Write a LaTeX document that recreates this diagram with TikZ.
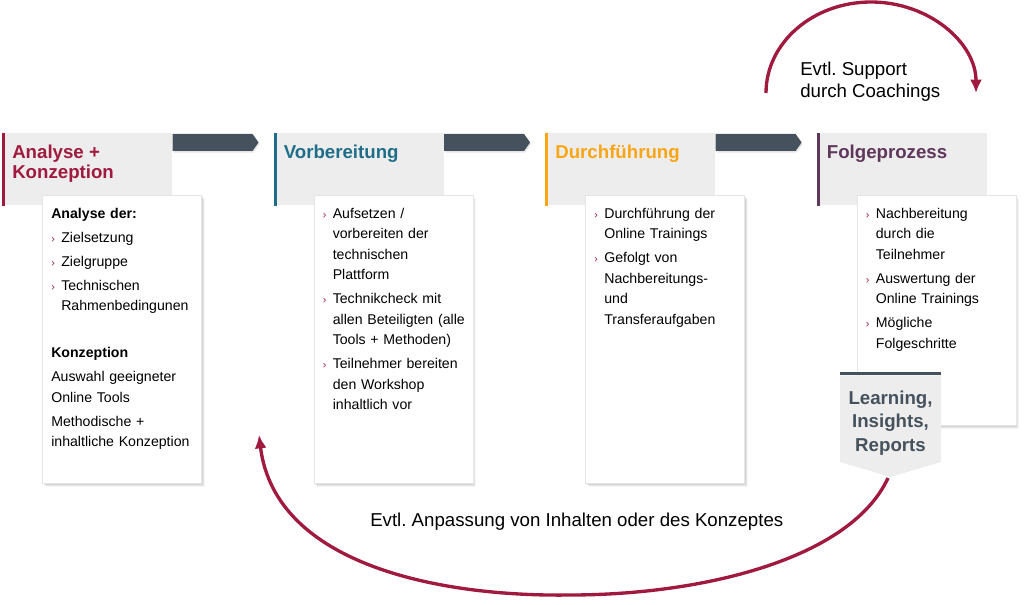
\documentclass[tikz,border=0pt]{standalone}
\usepackage{fontspec}
\setmainfont{Liberation Sans}
\usetikzlibrary{shapes,arrows.meta,positioning,shadows}
\definecolor{crimson}{RGB}{160,25,62}
\definecolor{petrol}{RGB}{30,110,138}
\definecolor{amber}{RGB}{250,165,20}
\definecolor{plum}{RGB}{95,55,90}
\definecolor{slate}{RGB}{69,82,93}
\definecolor{headgray}{RGB}{237,237,237}
\frenchspacing
\tikzstyle{phase} = [rectangle, fill=headgray, minimum width=127.5pt, minimum height=54pt, inner sep=0pt]
\tikzstyle{phasetitle} = [anchor=north west, inner sep=0pt, align=left, font=\fontsize{14}{15}\selectfont\bfseries]
\tikzstyle{card} = [rectangle, fill=white, draw=black!10, line width=0.4pt, minimum width=119.25pt, minimum height=216pt, inner sep=0pt, anchor=north west,
    drop shadow={shadow xshift=2.6pt, shadow yshift=-2.6pt, opacity=0.08},
    drop shadow={shadow xshift=1.8pt, shadow yshift=-1.8pt, opacity=0.12},
    drop shadow={shadow xshift=1pt, shadow yshift=-1pt, opacity=0.18}]
\tikzstyle{cardtext} = [anchor=north west, inner sep=0pt, text width=130pt, align=left, font=\fontsize{10.6}{15.4}\selectfont, execute at begin node={\setlength{\parskip}{2.6pt}}]
\tikzstyle{flowarrow} = [fill=slate, drop shadow={shadow xshift=0.8pt, shadow yshift=-1.2pt, opacity=0.2}]
\tikzstyle{backarrow} = [draw=crimson, line width=2.5pt, -{Latex[length=10pt, width=9pt]}]
\tikzstyle{note} = [anchor=north west, inner sep=0pt, align=left, font=\fontsize{14}{16.5}\selectfont]
\newcommand{\itm}[1]{\hangindent=7.5pt\hangafter=1\noindent\makebox[7.5pt][l]{\textcolor{crimson}{\footnotesize ›}}#1\par}
\begin{document}
\begin{tikzpicture}[x=0.75pt, y=-0.75pt]
            \useasboundingbox (0,0) rectangle (1024,605);

            % phase headers
            \node[phase, anchor=north west]                 (analyse) at (2,133){};
            \node[phase, right=75.75pt of analyse]          (vorbereitung){};
            \node[phase, right=75.75pt of vorbereitung]     (durchfuehrung){};
            \node[phase, right=75.75pt of durchfuehrung]    (folgeprozess){};
            \foreach \n/\col in {analyse/crimson, vorbereitung/petrol, durchfuehrung/amber, folgeprozess/plum}
                \fill[\col] (\n.north west) rectangle ([xshift=2.4pt]\n.south west);
            \foreach \a/\b in {analyse/vorbereitung, vorbereitung/durchfuehrung, durchfuehrung/folgeprozess}
                \fill[flowarrow] ([yshift=-0.75pt]\a.north east) -- ([xshift=-15.75pt, yshift=-0.75pt]\b.north west) -- ([xshift=-11.25pt, yshift=-7.1pt]\b.north west)
                    -- ([xshift=-15.75pt, yshift=-13.5pt]\b.north west) -- ([yshift=-13.5pt]\a.north east) -- cycle;

            \node[phasetitle, text=crimson, below right=9pt and 7.5pt of analyse.north west]       (analyse_title){
                Analyse +\\Konzeption
            };
            \node[phasetitle, text=petrol, below right=9pt and 7.5pt of vorbereitung.north west]   (vorbereitung_title){
                Vorbereitung
            };
            \node[phasetitle, text=amber, below right=9pt and 7.5pt of durchfuehrung.north west]   (durchfuehrung_title){
                Durchführung
            };
            \node[phasetitle, text=plum, below right=9pt and 7.5pt of folgeprozess.north west]     (folgeprozess_title){
                Folgeprozess
            };

            % content cards
            \node[card, below right=46.5pt and 30pt of analyse.north west]        (analyse_card){};
            \node[card, below right=46.5pt and 30pt of vorbereitung.north west]   (vorbereitung_card){};
            \node[card, below right=46.5pt and 30pt of durchfuehrung.north west]  (durchfuehrung_card){};
            \node[card, minimum height=172.5pt, below right=46.5pt and 30pt of folgeprozess.north west] (folgeprozess_card){};

            \node[cardtext, below right=9.4pt and 6.75pt of analyse_card.north west]       (analyse_text){
                \textbf{Analyse der:}\par
                \itm{Zielsetzung}
                \itm{Zielgruppe}
                \itm{Technischen\newline Rahmenbedingunen}
                \vspace{17.2pt}
                \textbf{Konzeption}\par
                Auswahl geeigneter\newline Online Tools\par
                Methodische +\newline inhaltliche Konzeption\par
            };
            \node[cardtext, below right=9.4pt and 6.75pt of vorbereitung_card.north west]  (vorbereitung_text){
                \itm{Aufsetzen /\newline vorbereiten der\newline technischen\newline Plattform}
                \itm{Technikcheck mit\newline allen Beteiligten (alle\newline Tools + Methoden)}
                \itm{Teilnehmer bereiten\newline den Workshop\newline inhaltlich vor}
            };
            \node[cardtext, below right=9.4pt and 6.75pt of durchfuehrung_card.north west] (durchfuehrung_text){
                \itm{Durchführung der\newline Online Trainings}
                \itm{Gefolgt von\newline Nachbereitungs-\newline und\newline Transferaufgaben}
            };
            \node[cardtext, below right=9.4pt and 6.75pt of folgeprozess_card.north west]  (folgeprozess_text){
                \itm{Nachbereitung\newline durch die\newline Teilnehmer}
                \itm{Auswertung der\newline Online Trainings}
                \itm{Mögliche\newline Folgeschritte}
            };

            % learning tab
            \fill[slate] (840,372) rectangle (941,375.5);
            \fill[headgray] (840,375.5) -- (941,375.5) -- (941,462) -- (890.5,477) -- (840,462) -- cycle;
            \node[font=\fontsize{14}{17.6}\selectfont\bfseries, text=slate, align=center, inner sep=0pt] (learning) at (890.5,423){
                Learning,\\Insights,\\Reports
            };

            % feedback loops
            \coordinate (support_start) at (766,93);
            \draw[backarrow] (support_start) arc[start angle=180, end angle=360, x radius=105, y radius=91];
            \node[note] (support_label) at (800,62){
                Evtl. Support\\durch Coachings
            };

            \coordinate (learning_tip) at (888,478);
            \coordinate (adjust_end) at (259,435);
            \draw[backarrow] (learning_tip) .. controls (850,560) and (700,595) .. (570,595)
                .. controls (440,597) and (275,565) .. (adjust_end);
            \node[note] (adjust_label) at (370,513){
                Evtl. Anpassung von Inhalten oder des Konzeptes
            };
        \end{tikzpicture}
\end{document}
